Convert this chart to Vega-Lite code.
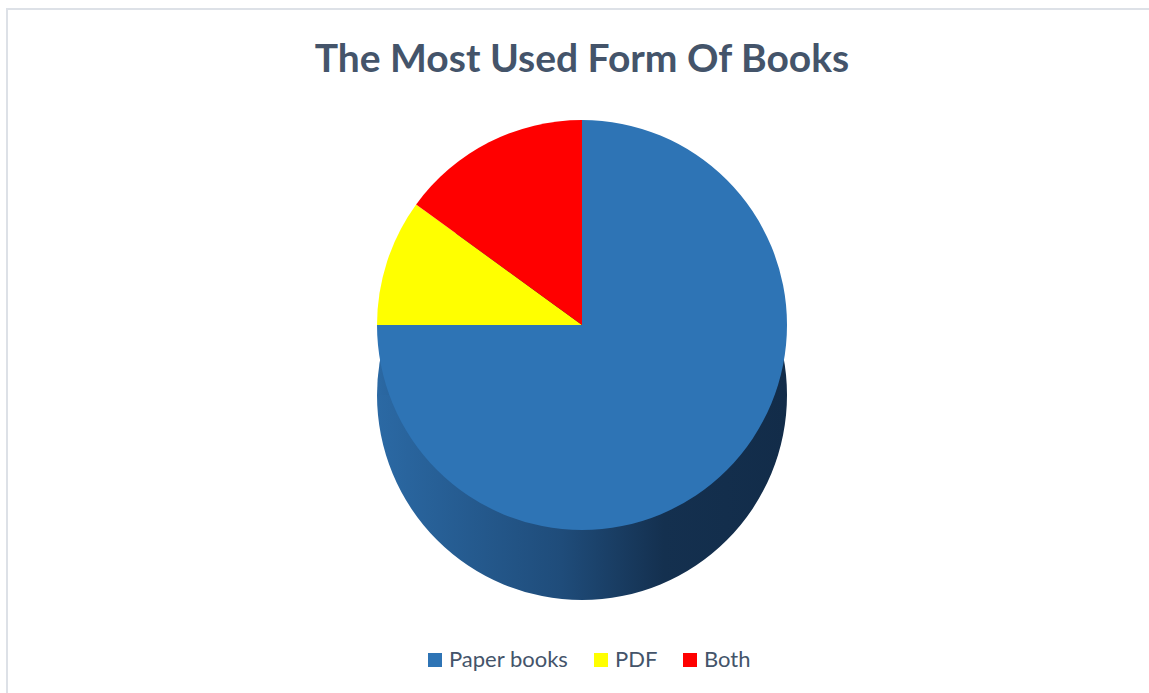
{
  "$schema": "https://vega.github.io/schema/vega-lite/v6.json",
  "width": 1150,
  "height": 690,
  "padding": {"left": 7, "top": 9, "right": 0, "bottom": 0},
  "autosize": {"type": "none"},
  "background": "white",
  "config": {
    "view": {"stroke": null},
    "font": "Lato"
  },
  "title": {
    "text": "The Most Used Form Of Books",
    "font": "Lato",
    "fontSize": 39,
    "fontWeight": "bold",
    "color": "#44546a",
    "anchor": "middle",
    "orient": "top",
    "offset": -72
  },
  "data": {
    "values": [
      {"form": "Paper books", "share": 75},
      {"form": "PDF", "share": 10},
      {"form": "Both", "share": 15}
    ]
  },
  "layer": [
    {
      "mark": {"type": "rect", "fill": null, "stroke": "#dde1e7", "strokeWidth": 2},
      "encoding": {}
    },
    {
      "mark": {
        "type": "arc",
        "outerRadius": 205,
        "yOffset": 41,
        "fill": {
          "gradient": "linear",
          "x1": 0, "y1": 0, "x2": 1, "y2": 0,
          "stops": [
            {"offset": 0, "color": "#2b69a4"},
            {"offset": 0.45, "color": "#1f4c7a"},
            {"offset": 0.7, "color": "#14304f"},
            {"offset": 1, "color": "#122c49"}
          ]
        }
      },
      "encoding": {
        "theta": {"field": "share", "type": "quantitative", "stack": true},
        "order": {"field": "form", "sort": "descending"}
      }
    },
    {
      "mark": {"type": "arc", "outerRadius": 205, "yOffset": -29},
      "encoding": {
        "theta": {"field": "share", "type": "quantitative", "stack": true},
        "order": {"field": "form", "sort": "descending"},
        "color": {
          "field": "form",
          "type": "nominal",
          "scale": {
            "domain": ["Paper books", "PDF", "Both"],
            "range": ["#2e74b5", "#ffff00", "#ff0000"]
          },
          "legend": {
            "title": null,
            "orient": "none",
            "legendX": 417,
            "legendY": 640,
            "direction": "horizontal",
            "symbolType": "square",
            "symbolSize": 196,
            "symbolStrokeWidth": 0,
            "labelFont": "Lato",
            "labelFontSize": 22,
            "labelColor": "#44546a",
            "labelOffset": 3,
            "columnPadding": 21
          }
        }
      }
    }
  ]
}
